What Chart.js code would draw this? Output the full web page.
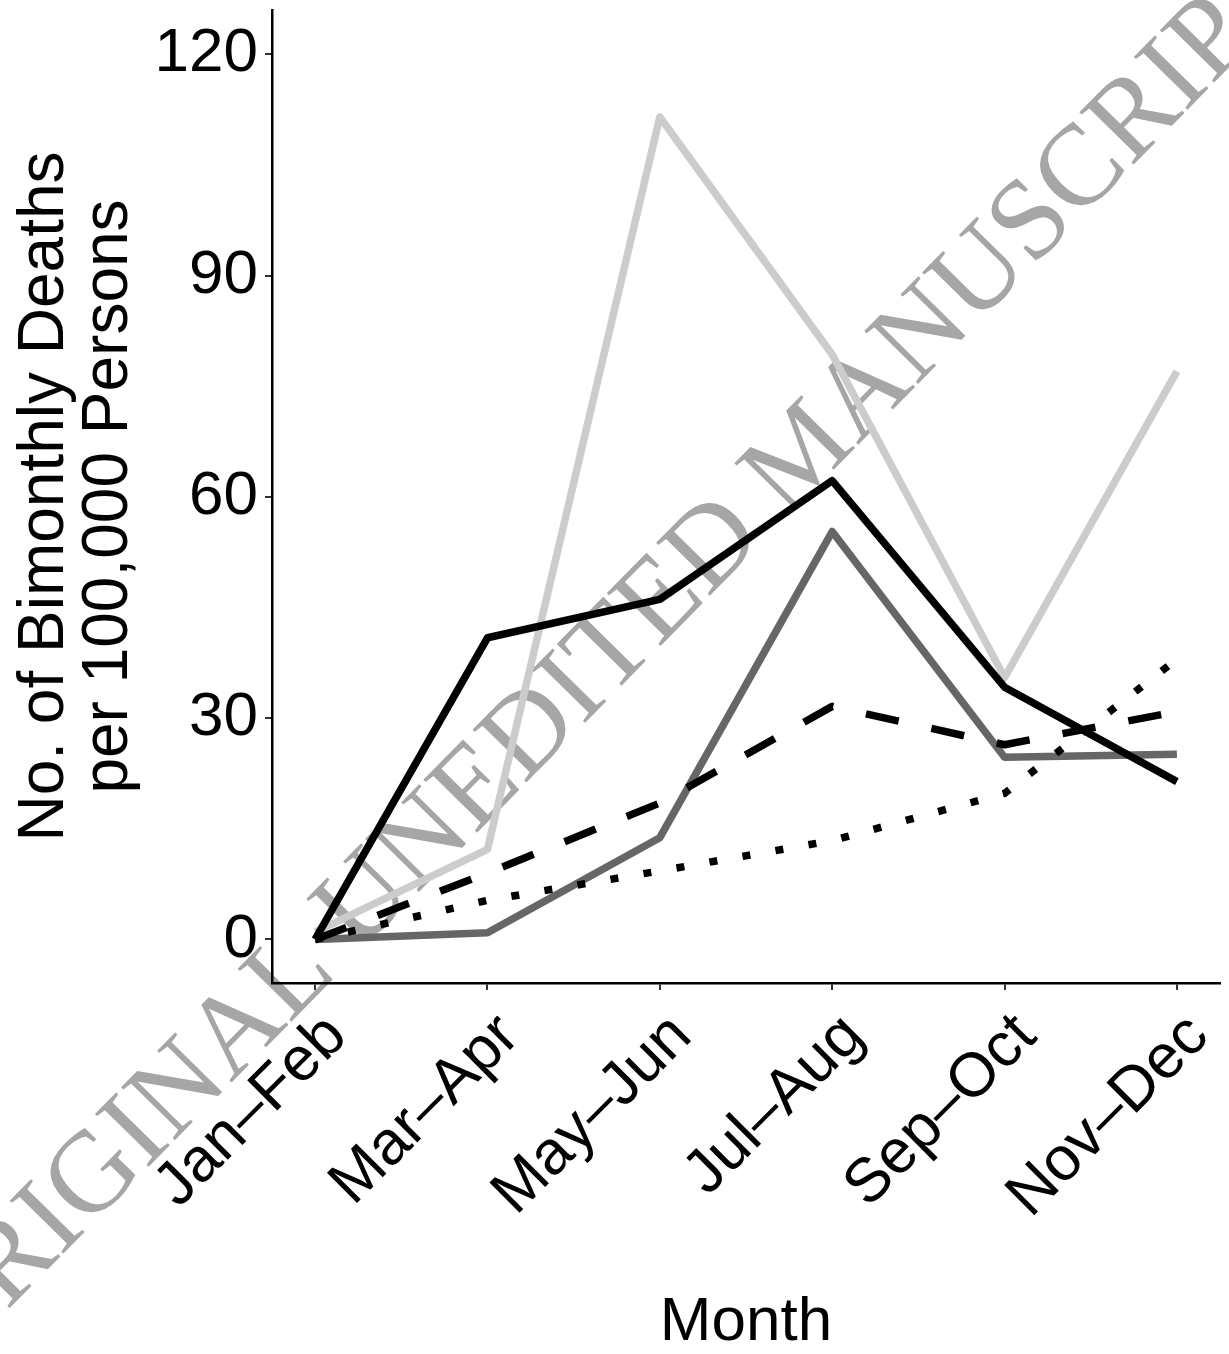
<!DOCTYPE html>
<html>
<head>
<meta charset="utf-8">
<script src="https://cdn.jsdelivr.net/npm/chart.js@4.4.1/dist/chart.umd.min.js"></script>
<style>
  html, body { margin: 0; padding: 0; background: #ffffff; }
  #wrap { width: 1229px; height: 1354px; position: relative; }
</style>
</head>
<body>
<div id="wrap"><canvas id="c"></canvas></div>
<script>
const categories = ["Jan\u2013Feb", "Mar\u2013Apr", "May\u2013Jun", "Jul\u2013Aug", "Sep\u2013Oct", "Nov\u2013Dec"];
const yTicks = [0, 30, 60, 90, 120];

const seriesLightGray = [1, 12.2, 111.5, 79.3, 35.5, 77];
const seriesDarkGray  = [0, 0.9, 13.8, 55.3, 24.7, 25.1];
const seriesBlack     = [0, 40.9, 46.1, 62.2, 34.2, 21.4];
const seriesDashed    = [0, 9, 18.5, 31.6, 26.4, 30.9];
const seriesDotted    = [0, 5.3, 9.3, 13.4, 19.8, 38];

const yTitle = ["No. of Bimonthly Deaths", "per 100,000 Persons"];
const xTitle = "Month";
const watermarkText = "ORIGINAL UNEDITED MANUSCRIPT";

function toPoints(arr) { return arr.map((v, i) => ({ x: i, y: v })); }

const FONT = "'Liberation Sans', Arial, Helvetica, sans-serif";
const LW = 7.5;

const watermark = {
  id: 'watermark',
  beforeDraw(chart) {
    const ctx = chart.ctx;
    ctx.save();
    ctx.fillStyle = '#ffffff';
    ctx.fillRect(0, 0, chart.width, chart.height);
    ctx.translate(627, 680);
    ctx.rotate(-45.5 * Math.PI / 180);
    ctx.font = "115px 'Liberation Serif', 'Times New Roman', serif";
    ctx.fillStyle = '#a6a6a6';
    ctx.textAlign = 'center';
    ctx.textBaseline = 'alphabetic';
    ctx.fillText(watermarkText, 0, 0);
    ctx.restore();
  }
};

function noPad(scale) {
  scale.paddingTop = 0;
  scale.paddingBottom = 0;
  scale.paddingLeft = 0;
  scale.paddingRight = 0;
}

const ds = (label, data, color, dash) => ({
  label,
  data: toPoints(data),
  borderColor: color,
  backgroundColor: color,
  borderWidth: LW,
  borderDash: dash,
  borderCapStyle: 'butt',
  borderJoinStyle: 'round',
  pointRadius: 0,
  tension: 0,
  fill: false
});

new Chart(document.getElementById('c'), {
  type: 'line',
  data: {
    datasets: [
      ds('Dotted', seriesDotted, '#000000', [8, 25.5]),
      ds('Dashed', seriesDashed, '#000000', [33.5, 33.5]),
      ds('Black', seriesBlack, '#000000', []),
      ds('Dark gray', seriesDarkGray, '#666666', []),
      ds('Light gray', seriesLightGray, '#cccccc', [])
    ]
  },
  options: {
    responsive: true,
    maintainAspectRatio: false,
    animation: false,
    layout: { padding: { top: 10, right: 9, left: 0, bottom: 0 } },
    plugins: { legend: { display: false }, tooltip: { enabled: false } },
    scales: {
      x: {
        type: 'linear',
        min: -0.25,
        max: 5.25,
        afterBuildTicks(scale) { scale.ticks = categories.map((c, i) => ({ value: i })); },
        afterFit(scale) { scale.height = 371; noPad(scale); },
        ticks: {
          autoSkip: false,
          maxRotation: 45,
          minRotation: 45,
          padding: 10,
          labelOffset: 22,
          color: '#000000',
          font: { family: FONT, size: 62 },
          callback: (v) => categories[Math.round(v)] ?? ''
        },
        grid: { drawOnChartArea: false, drawTicks: true, tickLength: 7, color: '#333333', lineWidth: 2 },
        border: { display: true, color: '#000000', width: 2.5 },
        title: {
          display: true,
          text: xTitle,
          color: '#000000',
          font: { family: FONT, size: 62, lineHeight: 1 },
          padding: { top: 0, bottom: 0 }
        }
      },
      y: {
        type: 'linear',
        min: -5.9,
        max: 126,
        afterBuildTicks(scale) { scale.ticks = yTicks.map(v => ({ value: v })); },
        afterFit(scale) { scale.width = 272; noPad(scale); },
        ticks: {
          padding: 7,
          color: '#000000',
          font: { family: FONT, size: 62 },
          callback: (v) => String(v)
        },
        grid: { drawOnChartArea: false, drawTicks: true, tickLength: 7, color: '#333333', lineWidth: 2 },
        border: { display: true, color: '#000000', width: 2.5 },
        title: {
          display: true,
          text: yTitle,
          color: '#000000',
          font: { family: FONT, size: 64, lineHeight: 1 },
          padding: { top: 13, bottom: 0 }
        }
      }
    }
  },
  plugins: [watermark]
});
</script>
</body>
</html>
